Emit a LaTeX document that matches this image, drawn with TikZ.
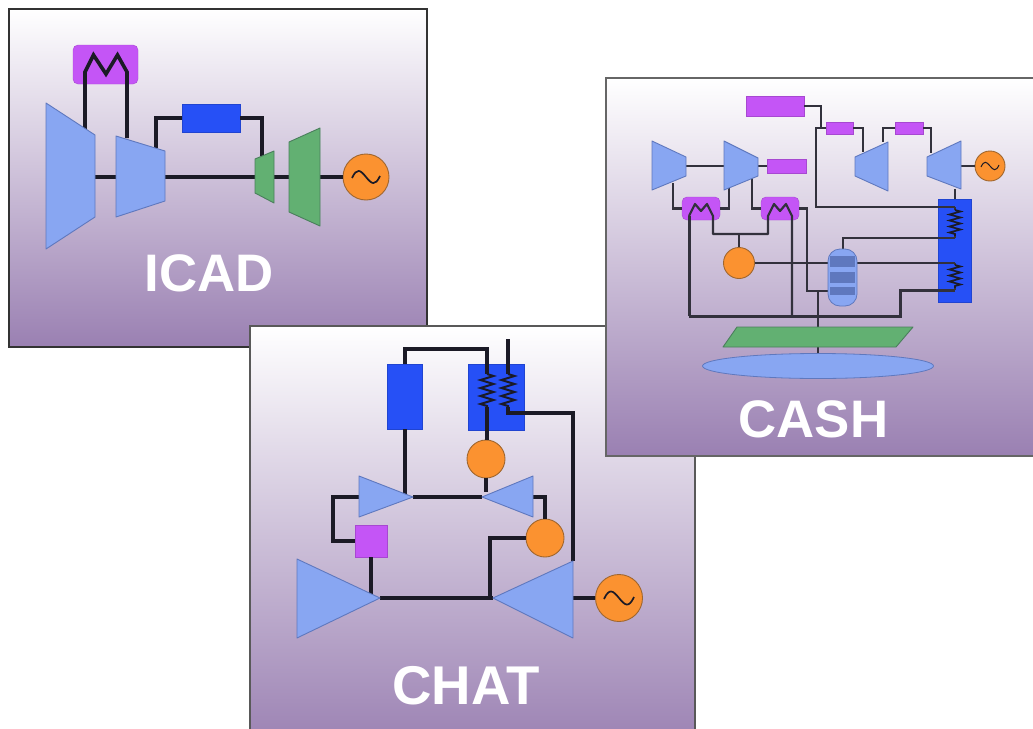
\documentclass[tikz,border=0pt]{standalone}
\usepackage{fontspec}
\setmainfont{Liberation Sans}
\usetikzlibrary{decorations.pathmorphing,shapes.geometric}
\definecolor{wire}{HTML}{1B1A26}
\definecolor{lblue}{HTML}{88A6F2}
\definecolor{lblueD}{HTML}{5F78BE}
\definecolor{vio}{HTML}{C455F6}
\definecolor{blu}{HTML}{2650F6}
\definecolor{ora}{HTML}{FB9230}
\definecolor{oraD}{HTML}{A0662E}
\definecolor{grn}{HTML}{62B072}
\definecolor{grnD}{HTML}{4A7E5C}
\definecolor{bot}{HTML}{9A80B2}
\tikzset{
  panel/.style={draw=#1,line width=1.6pt,top color=white,bottom color=bot},
  ttl/.style={text=white,font=\bfseries\fontsize{#1}{60}\selectfont,inner sep=0pt},
  pblue/.style={fill=lblue,draw=lblueD,line width=0.9pt,line join=round},
  pgreen/.style={fill=grn,draw=grnD,line width=0.9pt,line join=round},
  bluebox/.style={rectangle,fill=blu,draw=blu!85!black,line width=0.5pt,inner sep=0pt},
  viobox/.style={rectangle,fill=vio,draw=vio!85!black,line width=0.4pt,inner sep=0pt},
  heat/.style={viobox,rounded corners=5pt},
  orb/.style={circle,fill=ora,draw=oraD,line width=0.9pt,inner sep=0pt},
  vessel/.style={draw=lblueD,fill=lblue,line width=0.8pt,inner sep=0pt,rounded corners=12pt,minimum width=29pt,minimum height=57pt},
  wa/.style={draw=wire,line width=3.6pt,line join=miter},
  wb/.style={draw=wire!90!white,line width=2.2pt,line join=miter},
  wd/.style={draw=wire!90!white,line width=3pt,line join=miter},
  wc/.style={draw=wire,line width=3.3pt,line join=miter},
  we/.style={draw=wire,line width=4pt},
  coil/.style={draw=wire,line width=2pt,decorate,decoration={zigzag,segment length=8pt,amplitude=6.5pt}},
  coilb/.style={draw=wire,line width=1.7pt,decorate,decoration={zigzag,segment length=6pt,amplitude=5.5pt}},
}
\newcommand{\tilda}[3]{\draw[wire,line width=#3] ([shift={(-#2,1)}]#1.center) .. controls +(0.35*#2,-0.75*#2) and +(-0.4*#2,-0.5*#2) .. (#1.center) .. controls +(0.4*#2,0.5*#2) and +(-0.35*#2,0.75*#2) .. ([shift={(#2,-1)}]#1.center);}
\begin{document}
\begin{tikzpicture}[x=1pt,y=-1pt]
\useasboundingbox (0,0) rectangle (1033,728);
\clip (0,0) rectangle (1033,728);
% ---------- ICAD ----------
\node[panel=black!80,minimum width=418pt,minimum height=338pt,inner sep=0pt,anchor=north west] (pI) at (8,8) {};
\node[heat,minimum width=65pt,minimum height=39pt] (iH) at (105.5,64.5) {};
\node[bluebox,minimum width=58pt,minimum height=28pt] (iB) at (211,118) {};
\node[orb,minimum size=46pt] (iG) at (366,177) {};
\coordinate (i1) at (85,130); \coordinate (i2) at (85,72); \coordinate (i3) at (93.5,55);
\coordinate (i4) at (106,74); \coordinate (i5) at (117.5,55); \coordinate (i6) at (127,72);
\coordinate (i7) at (127,138); \coordinate (i8) at (156,148); \coordinate (i9) at (156,118);
\coordinate (i10) at (262,118); \coordinate (i11) at (262,156);
\coordinate (is0) at (95,177); \coordinate (is1) at (116,177); \coordinate (is2) at (165,177);
\coordinate (is3) at (255,177); \coordinate (is4) at (274,177); \coordinate (is5) at (289,177);
\coordinate (is6) at (320,177);
\draw[wa] (i1) -- (i2) -- (i3) -- (i4) -- (i5) -- (i6) -- (i7);
\draw[wa] (i8) -- (i9) -- (iB.west);
\draw[wa] (iB.east) -- (i10) -- (i11);
\draw[wa] (is0) -- (is1);
\draw[wa] (is2) -- (is3);
\draw[wa] (is4) -- (is5);
\draw[wa] (is6) -- (iG.west);
\path[pblue] (46,103) -- (95,135) -- (95,217) -- (46,249) -- cycle;
\path[pblue] (116,136) -- (165,151) -- (165,201) -- (116,217) -- cycle;
\path[pgreen] (255,159) -- (274,151) -- (274,203) -- (255,193) -- cycle;
\path[pgreen] (289,142) -- (320,128) -- (320,226) -- (289,212) -- cycle;
\tilda{iG}{14}{1.7pt}
\node[ttl=52.8] (tI) at (209,273) {ICAD};
% ---------- CHAT ----------
\node[panel=black!65,minimum width=445pt,minimum height=425pt,inner sep=0pt,anchor=north west] (pC) at (249,325) {};
\node[bluebox,minimum width=35pt,minimum height=65pt] (cB1) at (404.5,396.5) {};
\node[bluebox,minimum width=56pt,minimum height=66pt] (cB2) at (496,397) {};
\node[orb,minimum size=38pt] (cO1) at (486,459) {};
\node[orb,minimum size=38pt] (cO2) at (545,538) {};
\node[viobox,minimum width=32pt,minimum height=32pt] (cS) at (371,541) {};
\node[orb,minimum size=47pt] (cG) at (619,598) {};
\coordinate (c1) at (405,349); \coordinate (c2) at (487,349); \coordinate (c3) at (487,374);
\coordinate (c4) at (487,407); \coordinate (c5) at (508,339); \coordinate (c6) at (508,374);
\coordinate (c7) at (508,407); \coordinate (c8) at (508,413); \coordinate (c9) at (573,413);
\coordinate (c10) at (573,561); \coordinate (c11) at (405,494); \coordinate (c12) at (486,492);
\coordinate (c13) at (413,497); \coordinate (c14) at (482,497); \coordinate (c15) at (359,497);
\coordinate (c16) at (333,497); \coordinate (c17) at (333,541); \coordinate (c18) at (533,497);
\coordinate (c19) at (545,497); \coordinate (c20) at (490,538); \coordinate (c21) at (490,598);
\coordinate (c22) at (371,594); \coordinate (c23) at (380,598); \coordinate (c24) at (493,598);
\coordinate (c25) at (573,598);
\draw[wc] (cB1.north -| c1) -- (c1) -- (c2) -- (c3);
\draw[wc] (cB1.south -| c1) -- (c11);
\draw[wc] (c5) -- (c6);
\draw[coil] (c3) -- (c4);
\draw[coil] (c6) -- (c7);
\draw[wc] (c4) -- (cO1.north -| c4);
\draw[wc] (c7) -- (c8) -- (c9) -- (c10);
\draw[wc] (cO1.south) -- (c12);
\draw[wc] (c13) -- (c14);
\draw[wc] (c15) -- (c16) -- (c17) -- (cS.west);
\draw[wc] (c18) -- (c19) -- (cO2.north);
\draw[wc] (cO2.west) -- (c20) -- (c21);
\draw[wc] (cS.south) -- (c22);
\draw[we] (c23) -- (c24);
\draw[we] (c25) -- (cG.west);
\path[pblue] (359,476) -- (413,497) -- (359,517) -- cycle;
\path[pblue] (533,476) -- (482,497) -- (533,517) -- cycle;
\path[pblue] (297,559) -- (380,598) -- (297,638) -- cycle;
\path[pblue] (573,561) -- (493,598) -- (573,638) -- cycle;
\tilda{cG}{15}{1.7pt}
\node[ttl=54.6] (tC) at (466,686) {CHAT};
% ---------- CASH ----------
\node[panel=black!60,minimum width=440pt,minimum height=378pt,inner sep=0pt,anchor=north west] (pS) at (605,77) {};
\node[viobox,minimum width=58pt,minimum height=20pt] (sP1) at (775,106) {};
\node[viobox,minimum width=27pt,minimum height=12pt] (sP2) at (839.5,128) {};
\node[viobox,minimum width=28pt,minimum height=12pt] (sP3) at (909,128) {};
\node[viobox,minimum width=39pt,minimum height=14pt] (sP4) at (786.5,166) {};
\node[heat,minimum width=38pt,minimum height=23pt] (sH1) at (701,208.5) {};
\node[heat,minimum width=38pt,minimum height=23pt] (sH2) at (780,208.5) {};
\node[bluebox,minimum width=33pt,minimum height=103pt] (sB) at (954.5,250.5) {};
\node[orb,minimum size=31pt] (sO) at (739,263) {};
\node[orb,minimum size=30pt] (sG) at (990,166) {};
\coordinate (s1) at (821,106); \coordinate (s2) at (821,128); \coordinate (s3) at (816,128);
\coordinate (s4) at (816,207); \coordinate (s5) at (955,207); \coordinate (s6) at (955,236);
\coordinate (s7) at (955,238); \coordinate (s8) at (843,238); \coordinate (s9) at (863,128);
\coordinate (s10) at (863,152); \coordinate (s11) at (883,142); \coordinate (s12) at (883,128);
\coordinate (s13) at (931,128); \coordinate (s14) at (931,153); \coordinate (s15) at (961,166);
\coordinate (s16) at (955,189); \coordinate (s17) at (955,263); \coordinate (s18) at (955,290);
\coordinate (s19) at (900,290); \coordinate (s20) at (900,316); \coordinate (s21) at (689,316);
\coordinate (s22) at (689,216); \coordinate (s23) at (695,204); \coordinate (s24) at (701,211);
\coordinate (s25) at (707,204); \coordinate (s26) at (713,216); \coordinate (s27) at (713,234);
\coordinate (s28) at (768,234); \coordinate (s29) at (768,216); \coordinate (s30) at (774,204);
\coordinate (s31) at (780,211); \coordinate (s32) at (786,204); \coordinate (s33) at (792,216);
\coordinate (s34) at (792,316); \coordinate (s35) at (739,234); \coordinate (s36) at (673,183);
\coordinate (s37) at (673,208.5); \coordinate (s38) at (729,208.5); \coordinate (s39) at (729,188);
\coordinate (s40) at (752,178); \coordinate (s41) at (752,208.5); \coordinate (s42) at (807,208.5);
\coordinate (s43) at (807,291); \coordinate (s44) at (818,291); \coordinate (s45) at (818,327);
\coordinate (s46) at (818,347); \coordinate (s47) at (686,166); \coordinate (s48) at (724,166);
\coordinate (s49) at (758,166); \coordinate (s50) at (818,353); \coordinate (s51) at (955,210);
\coordinate (s52) at (955,265); \coordinate (s53) at (955,288); \coordinate (s54) at (829,291);
\draw[wb] (sP1.east |- s1) -- (s1) -- (s2);
\draw[wb] (sP2.west) -- (s3) -- (s4) -- (s5);
\draw[wb] (sP2.east) -- (s9) -- (s10);
\draw[wb] (s11) -- (s12) -- (sP3.west);
\draw[wb] (sP3.east) -- (s13) -- (s14);
\draw[wb] (s15) -- (sG.west);
\draw[wb] (s16) -- (sB.north -| s16);
\draw[wb] (s47) -- (s48);
\draw[wb] (s49) -- (sP4.west);
\draw[wb] (s36) -- (s37) -- (sH1.west);
\draw[wb] (sH1.east) -- (s38) -- (s39);
\draw[wb] (s40) -- (s41) -- (sH2.west);
\draw[wb] (sH2.east) -- (s42) -- (s43) -- (s54);
\draw[wb] (s44) -- (s45);
\draw[wb] (s46) -- (s50);
\draw[wb,line join=round] (s22) -- (s23) -- (s24) -- (s25) -- (s26) -- (s27) -- (s28) -- (s29) -- (s30) -- (s31) -- (s32) -- (s33) -- (s34);
\draw[wb] (s35) -- (sO.north);
\draw[wd] (s21) -- (s22);
\draw[wd] (s34) -- (s21);
\draw[wd] (s34) -- (s20) -- (s19) -- (s18);
\draw[wb] (sO.east) -- (s17);
\draw[wb] (s7) -- (s8) -- (843,250);
\draw[wb] (s5) -- (s51);
\draw[coilb] (s51) -- (s6);
\draw[wb] (s6) -- (s7);
\draw[wb] (s17) -- (s52);
\draw[coilb] (s52) -- (s53);
\draw[wb] (s53) -- (s18);
\node[vessel] (sV) at (842.5,277.5) {};
\fill[lblueD] (830,256) rectangle (855,267);
\fill[lblueD] (830,272) rectangle (855,283);
\fill[lblueD] (830,287) rectangle (855,295);
\path[pblue] (652,141) -- (686,157) -- (686,176) -- (652,190) -- cycle;
\path[pblue] (724,141) -- (758,158) -- (758,176) -- (724,190) -- cycle;
\path[pblue] (855,157) -- (888,142) -- (888,191) -- (855,176) -- cycle;
\path[pblue] (927,157) -- (961,141) -- (961,189) -- (927,176) -- cycle;
\path[pgreen] (737,327) -- (913,327) -- (896,347) -- (723,347) -- cycle;
\node[ellipse,draw=lblueD,fill=lblue,line width=0.8pt,inner sep=0pt,minimum width=231pt,minimum height=25pt] (sE) at (818,366) {};
\tilda{sG}{9}{1pt}
\node[ttl=52.8] (tS) at (813.5,419) {CASH};
\end{tikzpicture}
\end{document}
